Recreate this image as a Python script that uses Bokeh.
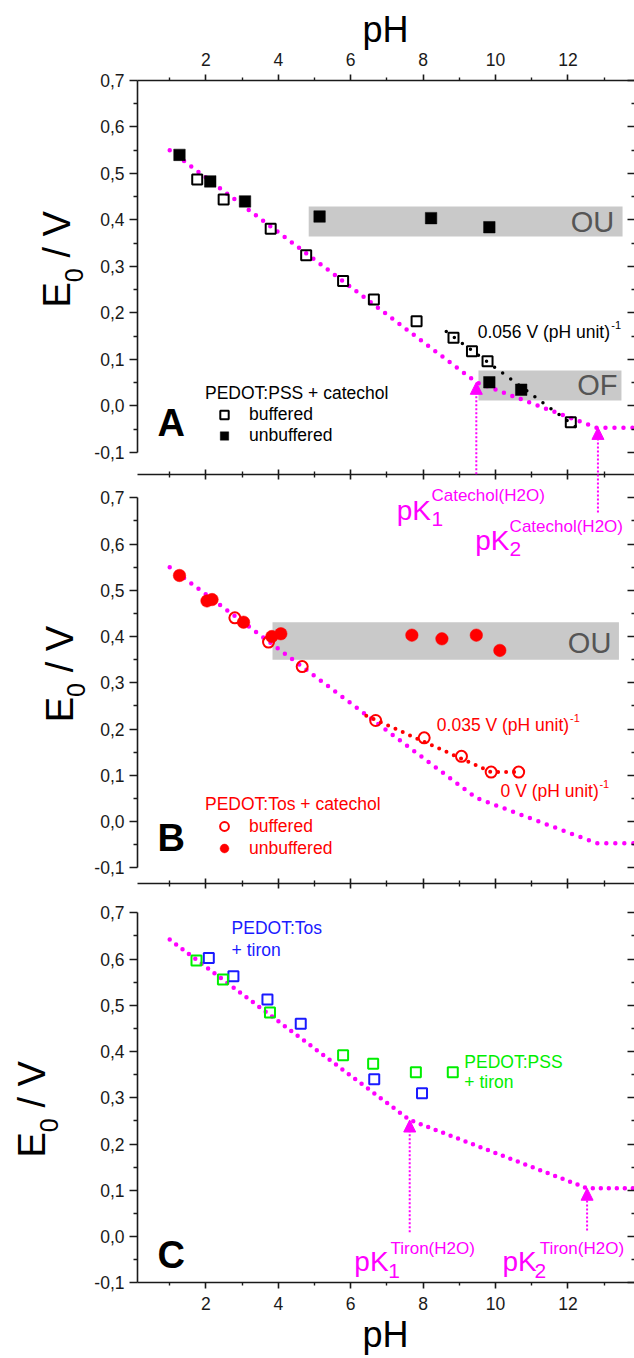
import math
from bokeh.plotting import figure
from bokeh.models import (Range1d, LinearAxis, FixedTicker, CustomJSTickFormatter,
                          Label, Arrow, NormalHead, Legend, LegendItem, ColumnDataSource)
from bokeh.embed import file_html
from bokeh.resources import INLINE

FONT = "Liberation Sans"
MAG = "#ff00ff"
RED = "#ff0000"
BLUE = "#1a1aff"
GREEN = "#00ee00"
BOXC = "#c9c9c9"
GREYTXT = "#555555"
AXC = "#1a1a1a"

# ---------------- tick values ----------------
x_major = [2, 4, 6, 8, 10, 12]
x_minor = [1, 3, 5, 7, 9, 11, 13]
y_major = [-0.1, 0.0, 0.1, 0.2, 0.3, 0.4, 0.5, 0.6, 0.7]
y_minor = [-0.05, 0.05, 0.15, 0.25, 0.35, 0.45, 0.55, 0.65]

# ---------------- panel A : PEDOT:PSS + catechol ----------------
a_buf_ph = [1.76, 2.49, 3.79, 4.77, 5.79, 6.64, 7.82, 8.84, 9.35, 9.78, 12.08]
a_buf_e = [0.487, 0.444, 0.381, 0.324, 0.269, 0.229, 0.182, 0.147, 0.118, 0.096, -0.035]
a_unb_ph = [1.27, 2.12, 3.08, 5.14, 8.22, 9.83, 9.83, 10.71]
a_unb_e = [0.540, 0.483, 0.440, 0.4075, 0.404, 0.3845, 0.051, 0.035]
a_fit_ph = [8.64, 12.29]
a_fit_e = [0.160, -0.049]

# theoretical catechol curve (panels A and B)
cat_ph = [1.0, 4.88, 8.03, 9.47, 12.8, 14.0]
cat_e = [0.550, 0.322, 0.136, 0.051, -0.047, -0.047]
cat_pk_ph = [9.47, 12.83]
cat_pk_tip = [0.051, -0.046]
cat_pk_base = [-0.147, -0.229]

# grey boxes (OU / OF)
a_box_left = [4.84, 9.53]
a_box_right = [13.51, 13.48]
a_box_bottom = [0.3645, 0.0118]
a_box_top = [0.429, 0.0763]

# ---------------- panel B : PEDOT:Tos + catechol ----------------
b_buf_ph = [2.80, 3.73, 4.66, 6.69, 8.03, 9.06, 9.88, 10.64]
b_buf_e = [0.4405, 0.388, 0.335, 0.2185, 0.181, 0.141, 0.107, 0.107]
b_unb_ph = [1.27, 2.03, 2.17, 3.04, 3.82, 4.07, 7.69, 8.52, 9.47, 10.12]
b_unb_e = [0.532, 0.477, 0.480, 0.431, 0.400, 0.406, 0.403, 0.395, 0.403, 0.370]
b_fit_ph = [6.43, 9.88, 10.67]
b_fit_e = [0.229, 0.107, 0.107]
b_box_left = [3.84]
b_box_right = [13.41]
b_box_bottom = [0.350]
b_box_top = [0.431]

# ---------------- panel C : tiron ----------------
c_tos_ph = [2.08, 2.76, 3.70, 4.62, 6.65, 7.97]
c_tos_e = [0.602, 0.563, 0.5125, 0.460, 0.340, 0.310]
c_pss_ph = [1.74, 2.47, 3.77, 5.79, 6.62, 7.80, 8.82]
c_pss_e = [0.597, 0.556, 0.4844, 0.392, 0.3735, 0.355, 0.3554]
tir_ph = [1.0, 7.63, 12.53, 14.0]
tir_e = [0.642, 0.252, 0.1045, 0.1045]
tir_pk_ph = [7.63, 12.53]
tir_pk_tip = [0.252, 0.1045]
tir_pk_base = [0.0095, 0.013]

# ---------------- figure (frame covers the whole canvas) ----------------
X0, X1 = 0.11, 13.84            # visible pH extent of the panels
XS = 36.2                         # px per pH unit
SCALE = {"default": 465.0, "B": 462.5, "C": 462.5}   # px per volt
p = figure(width=634, height=1358,
           x_range=Range1d(-3.6745, 13.84), y_range=Range1d(-2.04839, 0.87204),
           x_axis_type=None, y_axis_type=None,
           output_backend="svg", toolbar_location=None,
           min_border_left=0, min_border_right=0,
           min_border_top=0, min_border_bottom=0)
p.extra_y_ranges = {"B": Range1d(-1.16098, 1.77524), "C": Range1d(-0.26368, 2.67254)}
p.outline_line_color = None
p.background_fill_color = "white"
p.border_fill_color = "white"


def style_axis(ax):
    ax.axis_line_color = AXC
    ax.axis_line_width = 1.6
    ax.major_tick_line_color = AXC
    ax.major_tick_line_width = 1.6
    ax.minor_tick_line_color = AXC
    ax.minor_tick_line_width = 1.4
    ax.major_label_text_font = FONT
    ax.major_label_text_font_size = "17.5px"
    ax.major_label_text_color = AXC


comma_fmt = "return tick.toFixed(1).replace('.', ',');"
blank_fmt = "return '';"

for rng in ["default", "B", "C"]:
    left = LinearAxis(y_range_name=rng, fixed_location=X0, bounds=(-0.1, 0.7),
                      ticker=FixedTicker(ticks=y_major, minor_ticks=y_minor),
                      formatter=CustomJSTickFormatter(code=comma_fmt))
    style_axis(left)
    left.major_tick_out, left.major_tick_in = 8, 0
    left.minor_tick_out, left.minor_tick_in = 4, 0
    left.major_label_standoff = 5
    p.add_layout(left, "left")

    right = LinearAxis(y_range_name=rng, fixed_location=X1, bounds=(-0.1, 0.7),
                       ticker=FixedTicker(ticks=y_major, minor_ticks=y_minor),
                       formatter=CustomJSTickFormatter(code=blank_fmt))
    style_axis(right)
    right.axis_line_color = None
    right.major_label_text_color = None
    right.major_tick_out, right.major_tick_in = 0, 7
    right.minor_tick_out, right.minor_tick_in = 0, 3
    p.add_layout(right, "right")

# top axis (panel A)
top = LinearAxis(fixed_location=0.7, bounds=(X0, X1),
                 ticker=FixedTicker(ticks=x_major, minor_ticks=x_minor))
style_axis(top)
top.major_tick_out, top.major_tick_in = 6, 0
top.minor_tick_out, top.minor_tick_in = 3, 0
top.major_label_standoff = 8
p.add_layout(top, "above")

# separating axes (A bottom, B bottom) with crossing ticks
for rng, loc in [("default", -0.1473), ("B", -0.1333)]:
    mid = LinearAxis(y_range_name=rng, fixed_location=loc, bounds=(X0, X1),
                     ticker=FixedTicker(ticks=x_major, minor_ticks=x_minor),
                     formatter=CustomJSTickFormatter(code=blank_fmt))
    style_axis(mid)
    mid.major_label_text_color = None
    mid.major_tick_out, mid.major_tick_in = 5, 5
    mid.minor_tick_out, mid.minor_tick_in = 3, 3
    p.add_layout(mid, "below")

# bottom axis (panel C)
bot = LinearAxis(y_range_name="C", fixed_location=-0.1, bounds=(X0, X1),
                 ticker=FixedTicker(ticks=x_major, minor_ticks=x_minor))
style_axis(bot)
bot.major_tick_out, bot.major_tick_in = 6, 0
bot.minor_tick_out, bot.minor_tick_in = 3, 0
bot.major_label_standoff = 8
p.add_layout(bot, "below")

# ---------------- grey boxes ----------------
p.quad(left=a_box_left, right=a_box_right, bottom=a_box_bottom, top=a_box_top,
       fill_color=BOXC, line_color=None)
p.quad(left=b_box_left, right=b_box_right, bottom=b_box_bottom, top=b_box_top,
       fill_color=BOXC, line_color=None, y_range_name="B")

# ---------------- dotted curves ----------------
p.line(cat_ph, cat_e, line_color=MAG, line_width=4.5, line_dash="0 9", line_cap="round")
p.line(cat_ph, cat_e, line_color=MAG, line_width=4.5, line_dash="0 9", line_cap="round",
       y_range_name="B")
p.line(tir_ph, tir_e, line_color=MAG, line_width=4.5, line_dash="0 8", line_cap="round",
       y_range_name="C")
p.line(a_fit_ph, a_fit_e, line_color="black", line_width=3.5, line_dash="0 10", line_cap="round")
p.line(b_fit_ph, b_fit_e, line_color=RED, line_width=4, line_dash="0 8", line_cap="round",
       y_range_name="B")

# ---------------- markers ----------------
ra_buf = p.scatter(a_buf_ph, a_buf_e, marker="square", size=10, fill_color=None,
                   line_color="black", line_width=2)
ra_unb = p.scatter(a_unb_ph, a_unb_e, marker="square", size=11.5, fill_color="black",
                   line_color="black", line_width=0.5)
rb_buf = p.scatter(b_buf_ph, b_buf_e, marker="circle", size=11, fill_color=None,
                   line_color=RED, line_width=2, y_range_name="B")
rb_unb = p.scatter(b_unb_ph, b_unb_e, marker="circle", size=12.5, fill_color=RED,
                   line_color=RED, line_width=0.5, y_range_name="B")
p.scatter(c_tos_ph, c_tos_e, marker="square", size=10, fill_color=None,
          line_color=BLUE, line_width=2, y_range_name="C")
p.scatter(c_pss_ph, c_pss_e, marker="square", size=10, fill_color=None,
          line_color=GREEN, line_width=2, y_range_name="C")

# ---------------- pK arrows ----------------
def add_arrows(ph, base, tip, rng):
    src = ColumnDataSource(dict(x0=ph, y0=base, x1=ph, y1=tip))
    p.add_layout(Arrow(source=src, x_start="x0", y_start="y0", x_end="x1", y_end="y1",
                       y_range_name=rng, line_color=MAG, line_width=2, line_dash="2 2",
                       end=NormalHead(size=12, fill_color=MAG, line_color=MAG, line_width=1)))


add_arrows(cat_pk_ph, cat_pk_base, cat_pk_tip, "default")
add_arrows(tir_pk_ph, tir_pk_base, tir_pk_tip, "C")

# ---------------- text helper ----------------
KB = 0.32   # baseline correction (fraction of font size), applied in the text's own frame


def lab(x, y, text, size, color="black", rng="default", align="left", angle=0.0,
        bold=False):
    if angle:
        x = x - KB * size / XS
    else:
        y = y + KB * size / SCALE[rng]
    p.add_layout(Label(x=x, y=y, text=text, y_range_name=rng, text_font=FONT,
                       text_font_size=f"{size}px", text_color=color, text_align=align,
                       text_baseline="alphabetic", angle=angle,
                       text_font_style="bold" if bold else "normal"))


# axis titles
lab(6.96, 0.785, "pH", 36, align="center")
lab(6.96, -0.2377, "pH", 36, rng="C", align="center")
for rng, bx, sx, ye, y0, yv in [("default", -1.768, -1.436, 0.2118, 0.2662, 0.3191),
                                ("B", -1.685, -1.354, 0.2148, 0.2695, 0.3227),
                                ("C", -2.459, -2.127, 0.1709, 0.2256, 0.2788)]:
    lab(bx, ye, "E", 38, rng=rng, angle=math.pi / 2)
    lab(sx, y0, "0", 25, rng=rng, angle=math.pi / 2)
    lab(bx, yv, "/ V", 38, rng=rng, angle=math.pi / 2)

# panel letters
lab(0.663, -0.0634, "A", 38, bold=True)
lab(0.663, -0.0626, "B", 38, rng="B", bold=True)
lab(0.663, -0.0663, "C", 38, rng="C", bold=True)

# OU / OF
lab(13.28, 0.376, "OU", 29, color=GREYTXT, align="right")
lab(13.37, 0.0247, "OF", 29, color=GREYTXT, align="right")
lab(13.20, 0.3662, "OU", 29, color=GREYTXT, rng="B", align="right")

# slopes
lab(9.51, 0.147, "0.056 V (pH unit)", 17.5)
lab(13.20, 0.1667, "-1", 11)
lab(8.38, 0.197, "0.035 V (pH unit)", 17.5, color=RED, rng="B")
lab(12.06, 0.2163, "-1", 11, color=RED, rng="B")
lab(10.14, 0.053, "0 V (pH unit)", 17.5, color=RED, rng="B")
lab(12.87, 0.0736, "-1", 11, color=RED, rng="B")

# pK labels catechol (A coordinates)
lab(7.27, -0.2441, "pK", 28, color=MAG)
lab(8.23, -0.2570, "1", 21, color=MAG)
lab(8.23, -0.2032, "Catechol(H2O)", 17, color=MAG)
lab(9.44, -0.3086, "pK", 28, color=MAG)
lab(10.39, -0.3215, "2", 21, color=MAG)
lab(10.39, -0.2699, "Catechol(H2O)", 17, color=MAG)

# pK labels tiron
lab(6.10, -0.0734, "pK", 28, color=MAG, rng="C")
lab(7.04, -0.0885, "1", 21, color=MAG, rng="C")
lab(7.10, -0.0366, "Tiron(H2O)", 17, color=MAG, rng="C")
lab(10.19, -0.0734, "pK", 28, color=MAG, rng="C")
lab(11.08, -0.0885, "2", 21, color=MAG, rng="C")
lab(11.22, -0.0366, "Tiron(H2O)", 17, color=MAG, rng="C")

# tiron series labels
lab(2.71, 0.6546, "PEDOT:Tos", 17.5, color=BLUE, rng="C")
lab(2.71, 0.6077, "+ tiron", 17.5, color=BLUE, rng="C")
lab(9.14, 0.366, "PEDOT:PSS", 17.5, color=GREEN, rng="C")
lab(9.14, 0.3216, "+ tiron", 17.5, color=GREEN, rng="C")

# ---------------- legends ----------------
def add_legend(title, items, color, loc, gh):
    leg = Legend(items=items, title=title, location=loc, orientation="vertical",
                 glyph_width=38, glyph_height=gh, label_height=gh, spacing=0,
                 label_standoff=6, padding=0, margin=0, title_standoff=0,
                 background_fill_alpha=0, border_line_alpha=0,
                 label_text_font=FONT, label_text_font_size="17.5px",
                 label_text_color=color, title_text_font=FONT,
                 title_text_font_size="17.5px", title_text_font_style="normal",
                 title_text_color=color)
    p.add_layout(leg, "center")


add_legend("PEDOT:PSS + catechol",
           [LegendItem(label="buffered", renderers=[ra_buf]),
            LegendItem(label="unbuffered", renderers=[ra_unb])],
           "black", (205, 912), 21)
add_legend("PEDOT:Tos + catechol",
           [LegendItem(label="buffered", renderers=[rb_buf]),
            LegendItem(label="unbuffered", renderers=[rb_unb])],
           RED, (205, 499), 22)

open("out.html", "w").write(file_html(p, INLINE))
